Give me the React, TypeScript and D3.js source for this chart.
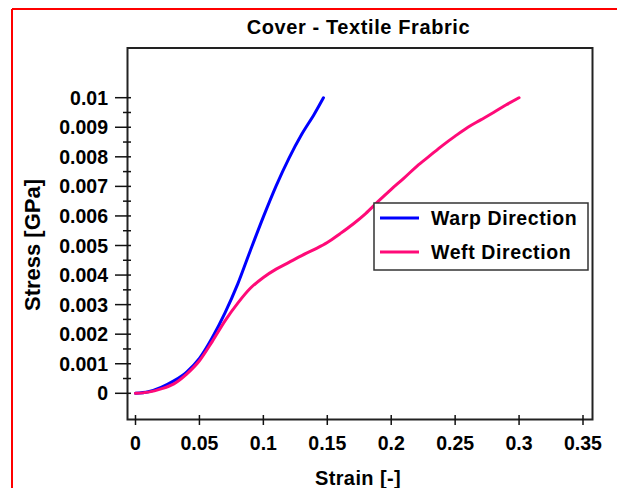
import React from "react";
import * as d3 from "d3";

const warpStrain = [0, 0.01, 0.02, 0.03, 0.04, 0.05, 0.06, 0.07, 0.08, 0.09, 0.1, 0.11, 0.12, 0.13, 0.14, 0.147];
const warpStress = [0, 0.00005, 0.0002, 0.00042, 0.00072, 0.00118, 0.00188, 0.00272, 0.0037, 0.00485, 0.00597, 0.00702, 0.00795, 0.00876, 0.00946, 0.01];

const weftStrain = [0, 0.01, 0.02, 0.03, 0.04, 0.05, 0.06, 0.07, 0.08, 0.09, 0.1, 0.11, 0.12, 0.13, 0.14, 0.15, 0.16, 0.17, 0.18, 0.19, 0.2, 0.21, 0.22, 0.23, 0.24, 0.25, 0.26, 0.27, 0.28, 0.29, 0.3];
const weftStress = [0, 0.00004, 0.00015, 0.00032, 0.00065, 0.0011, 0.00175, 0.00245, 0.00305, 0.00356, 0.00392, 0.0042, 0.00443, 0.00466, 0.00487, 0.0051, 0.0054, 0.00572, 0.00608, 0.0065, 0.0069, 0.00728, 0.00768, 0.00803, 0.00838, 0.0087, 0.009, 0.00925, 0.0095, 0.00976, 0.01];

const xTicks = [0, 0.05, 0.1, 0.15, 0.2, 0.25, 0.3, 0.35];
const xTickLabels = ["0", "0.05", "0.1", "0.15", "0.2", "0.25", "0.3", "0.35"];
const yTicks = [0, 0.001, 0.002, 0.003, 0.004, 0.005, 0.006, 0.007, 0.008, 0.009, 0.01];
const yTickLabels = ["0", "0.001", "0.002", "0.003", "0.004", "0.005", "0.006", "0.007", "0.008", "0.009", "0.01"];
const yMinorTicks = [0.0005, 0.0015, 0.0025, 0.0035, 0.0045, 0.0055, 0.0065, 0.0075, 0.0085, 0.0095];

const seriesNames = ["Warp Direction", "Weft Direction"];
const seriesColors = ["#0000FF", "#FF0A78"];

const title = "Cover - Textile Frabric";
const xTitle = "Strain [-]";
const yTitle = "Stress [GPa]";

const FONT = "'Liberation Sans', Arial, sans-serif";

export default function App() {
  const W = 617, H = 488;
  const frame = { x0: 127.5, y0: 48, x1: 592.5, y1: 419.5 };
  const x = d3.scaleLinear().domain([0, 0.35]).range([135.5, 583]);
  const y = d3.scaleLinear().domain([0, 0.01]).range([393.3, 97.7]);

  const line = d3
    .line<[number, number]>()
    .x((d) => x(d[0]))
    .y((d) => y(d[1]))
    .curve(d3.curveMonotoneX);

  const warp: [number, number][] = warpStrain.map((s, i) => [s, warpStress[i]]);
  const weft: [number, number][] = weftStrain.map((s, i) => [s, weftStress[i]]);

  const legend = { x: 374, y: 203, w: 214, h: 67 };

  return (
    <svg
      width={W}
      height={H}
      style={{ position: "absolute", left: 0, top: 0, background: "#fff" }}
    >
      <rect x={0} y={0} width={W} height={H} fill="#fff" />
      {/* red outer border */}
      <line x1={12} y1={9} x2={W} y2={9} stroke="#FF0000" strokeWidth={2} />
      <line x1={12} y1={9} x2={12} y2={H} stroke="#FF0000" strokeWidth={2} />

      {/* title */}
      <text
        x={358.5}
        y={34}
        textAnchor="middle"
        fontFamily={FONT}
        fontWeight="bold"
        fontSize={20}
        letterSpacing={0.6}
        fill="#000"
      >
        {title}
      </text>

      {/* series */}
      <path d={line(warp) || ""} fill="none" stroke={seriesColors[0]} strokeWidth={3} strokeLinejoin="round" strokeLinecap="round" />
      <path d={line(weft) || ""} fill="none" stroke={seriesColors[1]} strokeWidth={3} strokeLinejoin="round" strokeLinecap="round" />

      {/* frame */}
      <rect
        x={frame.x0}
        y={frame.y0}
        width={frame.x1 - frame.x0}
        height={frame.y1 - frame.y0}
        fill="none"
        stroke="#222"
        strokeWidth={2}
      />

      {/* y ticks */}
      {yTicks.map((t, i) => (
        <g key={"y" + i}>
          <line x1={115} x2={131} y1={y(t)} y2={y(t)} stroke="#111" strokeWidth={1.5} />
          <text
            x={108}
            y={y(t) + 7}
            textAnchor="end"
            fontFamily={FONT}
            fontWeight="bold"
            fontSize={19.5}
            fill="#000"
          >
            {yTickLabels[i]}
          </text>
        </g>
      ))}
      {yMinorTicks.map((t, i) => (
        <line key={"ym" + i} x1={123} x2={131} y1={y(t)} y2={y(t)} stroke="#111" strokeWidth={1.5} />
      ))}

      {/* x ticks */}
      {xTicks.map((t, i) => (
        <g key={"x" + i}>
          <line x1={x(t)} x2={x(t)} y1={415} y2={425} stroke="#111" strokeWidth={1.5} />
          <text
            x={x(t)}
            y={450}
            textAnchor="middle"
            fontFamily={FONT}
            fontWeight="bold"
            fontSize={19.5}
            fill="#000"
          >
            {xTickLabels[i]}
          </text>
        </g>
      ))}

      {/* axis titles */}
      <text
        x={358}
        y={485}
        textAnchor="middle"
        fontFamily={FONT}
        fontWeight="bold"
        fontSize={20}
        letterSpacing={0.4}
        fill="#000"
      >
        {xTitle}
      </text>
      <text
        transform={`translate(40,245) rotate(-90)`}
        textAnchor="middle"
        fontFamily={FONT}
        fontWeight="bold"
        fontSize={22}
        fill="#000"
      >
        {yTitle}
      </text>

      {/* legend */}
      <rect x={legend.x} y={legend.y} width={legend.w} height={legend.h} fill="#fff" stroke="#333" strokeWidth={1.5} />
      {seriesNames.map((n, i) => {
        const ly = legend.y + 15 + i * 34;
        return (
          <g key={"l" + i}>
            <line x1={380} x2={419} y1={ly} y2={ly} stroke={seriesColors[i]} strokeWidth={3} />
            <text
              x={431}
              y={ly + 7}
              fontFamily={FONT}
              fontWeight="bold"
              fontSize={19.5}
              letterSpacing={0.6}
              fill="#000"
            >
              {n}
            </text>
          </g>
        );
      })}
    </svg>
  );
}
